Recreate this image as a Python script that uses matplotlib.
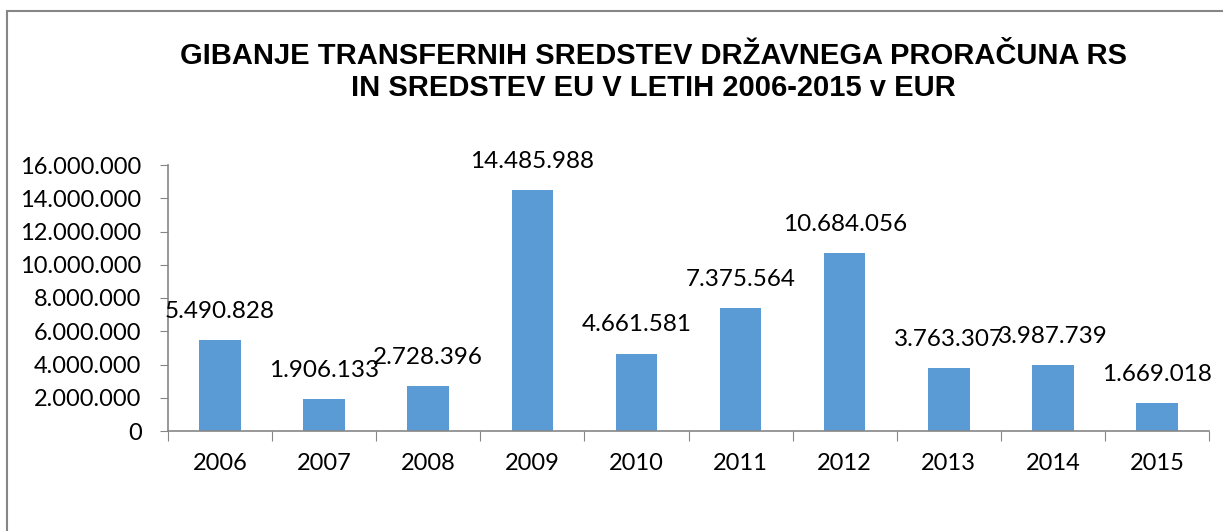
import matplotlib.pyplot as plt
import matplotlib.patches as mpatches
import numpy as np

years = ['2006', '2007', '2008', '2009', '2010', '2011', '2012', '2013', '2014', '2015']
values = [5490828, 1906133, 2728396, 14485988, 4661581, 7375564, 10684056, 3763307, 3987739, 1669018]
title = 'GIBANJE TRANSFERNIH SREDSTEV DRŽAVNEGA PRORAČUNA RS\nIN SREDSTEV EU V LETIH 2006-2015 v EUR'

def dots(v):
    return f'{int(v):,}'.replace(',', '.')

plt.rcParams['font.family'] = ['Lato', 'DejaVu Sans']

fig = plt.figure(figsize=(12.23, 5.31), dpi=100)
ax = fig.add_axes([168/1223, 1-431/531, (1209-168)/1223, (431-165)/531])

x = np.arange(len(years))
ax.bar(x, values, width=0.4, color='#5B9BD5', zorder=2)
for xi, v in zip(x, values):
    ax.annotate(dots(v), (xi, v), xytext=(0, 13), textcoords='offset points',
                ha='center', va='bottom', fontsize=17.5, color='#000000')

ax.set_xlim(-0.5, len(years) - 0.5)
ax.set_ylim(0, 16000000)
ax.set_yticks(np.arange(0, 16000001, 2000000))
ax.set_yticklabels([dots(t) for t in np.arange(0, 16000001, 2000000)], fontsize=17)
ax.set_xticks(np.arange(-0.5, len(years), 1))
ax.set_xticklabels([])
ax.set_xticks(x, minor=True)
ax.set_xticklabels(years, minor=True, fontsize=17)
ax.tick_params(axis='x', which='major', length=7, color='#868686', direction='out')
ax.tick_params(axis='x', which='minor', length=0, pad=16)
ax.tick_params(axis='y', length=6, color='#868686', pad=13)

for s in ['top', 'right']:
    ax.spines[s].set_visible(False)
for s in ['left', 'bottom']:
    ax.spines[s].set_color('#868686')
    ax.spines[s].set_linewidth(1.2)

fig.text(653/1223, 1-72/531, title, ha='center', va='center', fontsize=21,
         fontweight='bold', family='Liberation Sans', linespacing=1.2)

border = mpatches.Rectangle((7/1223, -0.1), 1.1, 1-11/531+0.1, transform=fig.transFigure,
                            fill=False, edgecolor='#868686', linewidth=1.5)
fig.patches.append(border)

fig.savefig('out.png', dpi=100)
